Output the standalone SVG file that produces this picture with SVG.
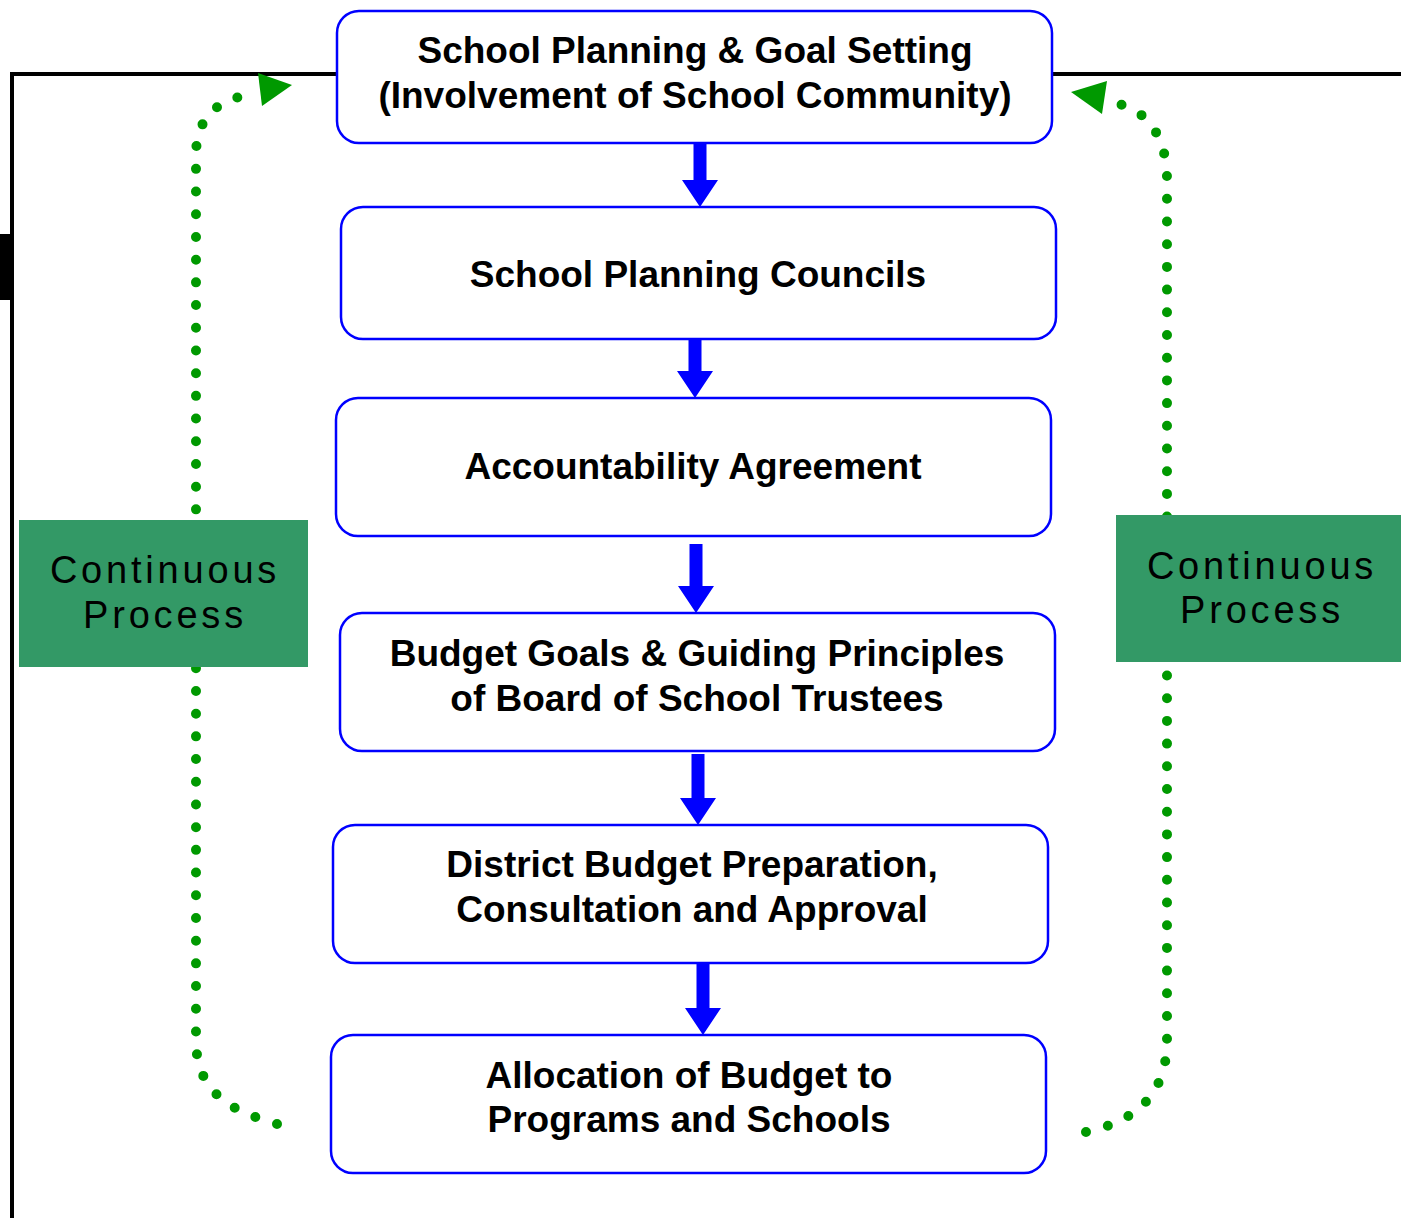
<svg xmlns="http://www.w3.org/2000/svg" width="1401" height="1218" viewBox="0 0 1401 1218">
<style>
.box{fill:#fff;stroke:#0000ff;stroke-width:2.5}
.t{font-family:"Liberation Sans",Arial,sans-serif;font-weight:bold;font-size:37px;fill:#000;text-anchor:middle}
.cp{fill:#339966}
.ct{font-family:"Liberation Sans",Arial,sans-serif;font-size:38px;letter-spacing:3.8px;fill:#000;text-anchor:middle}
.dot{fill:none;stroke:#009900;stroke-width:10;stroke-linecap:round;stroke-dasharray:0 22.7}
.arr{fill:#0000ff}
.gh{fill:#009900}
</style>
<rect width="1401" height="1218" fill="#fff"/>
<g id="frame">
<path d="M12 1218 V74 H337 M1052 74 H1401" fill="none" stroke="#000" stroke-width="4"/>
<rect x="0" y="234" width="14" height="66" fill="#000"/>
</g>
<g id="connectors">
<path class="dot" d="M277 1124 C235 1112 196 1095 196 1040 L196 155 C196 120 215 102 243 96"/>
<polygon class="gh" points="258,73 292,85 262,106"/>
<path class="dot" d="M1086 1132 C1130 1122 1167 1100 1167 1040 L1167 180 C1167 140 1150 112 1119 104"/>
<polygon class="gh" points="1071,92 1107,81 1102,114"/>
<polygon class="arr" points="693.5,143 706.5,143 706.5,180 718,180 700,207 682,180 693.5,180"/>
<polygon class="arr" points="688.5,339 701.5,339 701.5,371 713,371 695,398 677,371 688.5,371"/>
<polygon class="arr" points="689.5,544 702.5,544 702.5,586 714,586 696,613 678,586 689.5,586"/>
<polygon class="arr" points="691.5,754 704.5,754 704.5,798 716,798 698,825 680,798 691.5,798"/>
<polygon class="arr" points="696.5,963 709.5,963 709.5,1008 721,1008 703,1035 685,1008 696.5,1008"/>
</g>
<g id="cp-left">
<rect class="cp" x="19" y="520" width="289" height="147"/>
<text class="ct" x="165" y="583">Continuous</text>
<text class="ct" x="165" y="628">Process</text>
</g>
<g id="cp-right">
<rect class="cp" x="1116" y="515" width="285" height="147"/>
<text class="ct" x="1262" y="579">Continuous</text>
<text class="ct" x="1262" y="623">Process</text>
</g>
<g id="n1">
<rect class="box" x="337" y="11" width="715" height="132" rx="22"/>
<text class="t" x="695" y="63">School Planning &amp; Goal Setting</text>
<text class="t" x="695" y="108">(Involvement of School Community)</text>
</g>
<g id="n2">
<rect class="box" x="341" y="207" width="715" height="132" rx="22"/>
<text class="t" x="698" y="287">School Planning Councils</text>
</g>
<g id="n3">
<rect class="box" x="336" y="398" width="715" height="138" rx="22"/>
<text class="t" x="693" y="479">Accountability Agreement</text>
</g>
<g id="n4">
<rect class="box" x="340" y="613" width="715" height="138" rx="22"/>
<text class="t" x="697" y="666">Budget Goals &amp; Guiding Principles</text>
<text class="t" x="697" y="711">of Board of School Trustees</text>
</g>
<g id="n5">
<rect class="box" x="333" y="825" width="715" height="138" rx="22"/>
<text class="t" x="692" y="877">District Budget Preparation,</text>
<text class="t" x="692" y="922">Consultation and Approval</text>
</g>
<g id="n6">
<rect class="box" x="331" y="1035" width="715" height="138" rx="22"/>
<text class="t" x="689" y="1088">Allocation of Budget to</text>
<text class="t" x="689" y="1132">Programs and Schools</text>
</g>
</svg>
